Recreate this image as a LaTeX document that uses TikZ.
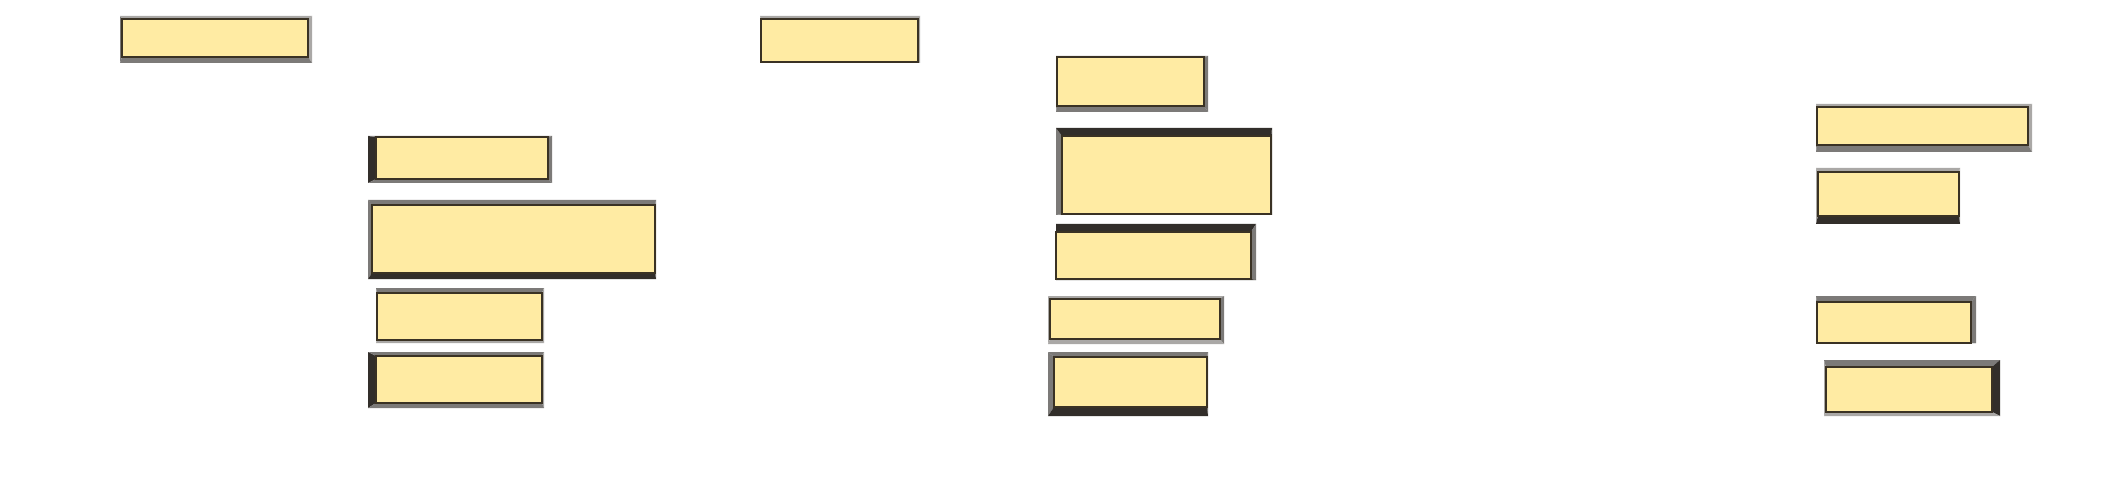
\documentclass[tikz,border=0pt]{standalone}
\usepackage{tikz}
\usepackage{xcolor}
\usetikzlibrary{fit}
\definecolor{plateyellow}{HTML}{FFEBA3}
\definecolor{plateline}{HTML}{3A3224}
\definecolor{edgeD}{HTML}{322E2A}
\definecolor{edgeM}{HTML}{7C7A78}
\definecolor{edgeL}{HTML}{AAA8A6}

\begin{document}
\begin{tikzpicture}[x=0.01cm,y=-0.01cm,
  plate/.style={draw=plateline, line width=0.4pt, fill=plateyellow, inner sep=0pt}]
\useasboundingbox (0,0) rectangle (2118,488);
% name / outer box / inner box / left,top,right,bottom edge
\foreach \n/\ox/\oy/\oX/\oY/\ix/\iy/\iX/\iY/\eL/\eT/\eR/\eB in {
  % Column 1
  boxA/120/16/312/63/122/19/308/57/edgeM/edgeL/edgeL/edgeM,
  boxH/368/136/552/183/376/137/548/179/edgeD/edgeM/edgeM/edgeM,
  boxI/368/200/656/279/372/205/655/273/edgeM/edgeM/edgeM/edgeD,
  boxJ/376/288/544/343/377/293/542/340/edgeL/edgeM/edgeL/edgeL,
  boxK/368/352/544/408/376/356/542/403/edgeD/edgeM/edgeL/edgeM,
  % Column 2
  boxB/760/16/920/63/761/19/918/62/edgeL/edgeL/edgeL/edgeL,
  boxC/1056/56/1208/112/1057/57/1204/106/edgeM/edgeM/edgeM/edgeM,
  boxD/1056/128/1272/215/1062/136/1271/214/edgeM/edgeD/edgeD/edgeM,
  boxE/1056/224/1256/280/1056/232/1251/279/edgeD/edgeD/edgeM/edgeD,
  boxF/1048/296/1224/344/1050/299/1220/339/edgeL/edgeL/edgeM/edgeL,
  boxG/1048/352/1208/416/1054/357/1207/407/edgeM/edgeM/edgeM/edgeD,
  % Column 3
  boxL/1816/104/2032/152/1817/107/2028/145/edgeM/edgeL/edgeL/edgeM,
  boxM/1816/168/1960/224/1818/172/1959/216/edgeL/edgeL/edgeL/edgeD,
  boxN/1816/296/1976/343/1817/302/1971/343/edgeM/edgeM/edgeM/edgeM,
  boxO/1824/360/2000/416/1826/367/1992/412/edgeL/edgeM/edgeD/edgeL} {
  \fill[\eL] (\ox,\oy) -- (\ix,\iy) -- (\ix,\iY) -- (\ox,\oY) -- cycle;
  \fill[\eT] (\ox,\oy) -- (\oX,\oy) -- (\iX,\iy) -- (\ix,\iy) -- cycle;
  \fill[\eR] (\oX,\oy) -- (\oX,\oY) -- (\iX,\iY) -- (\iX,\iy) -- cycle;
  \fill[\eB] (\ox,\oY) -- (\ix,\iY) -- (\iX,\iY) -- (\oX,\oY) -- cycle;
  \node[plate, fit={(\ix,\iy) (\iX,\iY)}] (\n) {};
}
\end{tikzpicture}
\end{document}
